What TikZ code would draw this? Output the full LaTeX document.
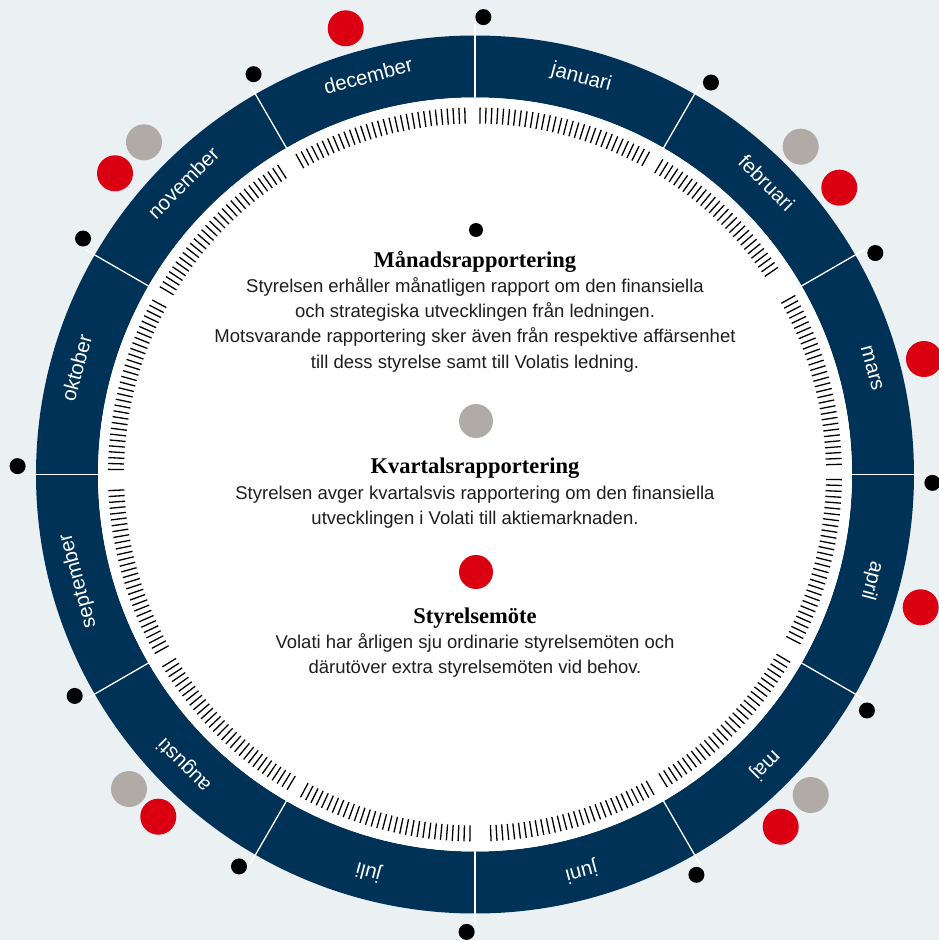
\documentclass[tikz,border=0pt]{standalone}
\usepackage{fontspec}
\setmainfont{Liberation Sans}
\newfontfamily\headfont{Liberation Serif}
\definecolor{navy}{RGB}{0,50,88}
\definecolor{vred}{RGB}{218,0,18}
\definecolor{vgrey}{RGB}{176,171,166}
\definecolor{bgc}{RGB}{235,240,243}
\definecolor{bodyc}{RGB}{30,30,30}
\begin{document}
\begin{tikzpicture}[x=1pt,y=1pt,
  bdot/.style={circle, fill=black, minimum size=16pt, inner sep=0pt},
  rdot/.style={circle, fill=vred, minimum size=36pt, inner sep=0pt},
  gdot/.style={circle, fill=vgrey, minimum size=36pt, inner sep=0pt},
  monthlabel/.style={text=white, font=\fontsize{20.5}{24}\selectfont, anchor=mid, inner sep=0pt},
  daytick/.style={line width=1.3pt, black},
  divider/.style={white, line width=1.3pt},
  headtext/.style={font=\headfont\bfseries\fontsize{22.5}{26}\selectfont, anchor=base, inner sep=0pt},
  bodytext/.style={font=\fontsize{18.5}{25}\selectfont, text=bodyc, anchor=base, inner sep=0pt}]
% background and bounding box
\fill[bgc] (-475,-465.5) rectangle (464,474.5);
\useasboundingbox (-475,-465.5) rectangle (464,474.5);
\coordinate (c) at (0,0);
% ring
\fill[navy, even odd rule] (c) circle (439) (c) circle (377);
\fill[white] (c) circle (377);
% dividers
\foreach \k in {0,...,11}{
  \pgfmathsetmacro\a{90-30*\k}
  \draw[divider] (\a:377) -- (\a:450);
}
% day ticks
\foreach \m/\d in {0/31,1/28,2/31,3/30,4/31,5/30,6/31,7/31,8/30,9/31,10/30,11/31}{
  \foreach \i in {1,...,\d}{
    \pgfmathsetmacro\a{90-30*\m-0.8-(\i-1)*0.92}
    \draw[daytick] (\a:351) -- (\a:367);
  }
}
% month labels
\foreach \m/\nm in {0/januari,1/februari,2/mars,3/april,4/maj,5/juni,6/juli,7/augusti,8/september,9/oktober,10/november,11/december}{
  \pgfmathsetmacro\a{75-30*\m}
  \node[monthlabel, rotate=\a-90] (m\m) at (\a:408) {\nm};
}
% boundary dots
\foreach \k in {0,...,11}{
  \pgfmathsetmacro\a{90-30*\k-1.05}
  \node[bdot] (bd\k) at (\a:457.5) {};
}
% event dots
\node[rdot] (decr) at (-129.3,446.2) {};
\node[gdot] (febg) at (325.7,327.8) {};
\node[rdot] (febr) at (364.3,286.8) {};
\node[rdot] (marr) at (449,115.5) {};
\node[rdot] (aprr) at (445.7,-132.8) {};
\node[gdot] (majg) at (335.7,-320.5) {};
\node[rdot] (majr) at (305.7,-352.2) {};
\node[gdot] (augg) at (-346,-314.5) {};
\node[rdot] (augr) at (-316.7,-342.2) {};
\node[gdot] (novg) at (-331,332.2) {};
\node[rdot] (novr) at (-360,301.2) {};
% legend
\node[bdot, minimum size=14pt] (lb) at (1,244.5) {};
\node[headtext] (h1) at (0,206.5) {Månadsrapportering};
\node[bodytext] (t1a) at (0,181.5) {Styrelsen erhåller månatligen rapport om den finansiella};
\node[bodytext] (t1b) at (0,156.5) {och strategiska utvecklingen från ledningen.};
\node[bodytext] (t1c) at (0,131.5) {Motsvarande rapportering sker även från respektive affärsenhet};
\node[bodytext] (t1d) at (0,106.5) {till dess styrelse samt till Volatis ledning.};
\node[gdot, minimum size=34pt] (lg) at (1,53.5) {};
\node[headtext] (h2) at (0,1.5) {Kvartalsrapportering};
\node[bodytext] (t2a) at (0,-24.5) {Styrelsen avger kvartalsvis rapportering om den finansiella};
\node[bodytext] (t2b) at (0,-49.5) {utvecklingen i Volati till aktiemarknaden.};
\node[rdot, minimum size=34pt] (lr) at (1,-97.5) {};
\node[headtext] (h3) at (0,-148.5) {Styrelsemöte};
\node[bodytext] (t3a) at (0,-173.5) {Volati har årligen sju ordinarie styrelsemöten och};
\node[bodytext] (t3b) at (0,-198.5) {därutöver extra styrelsemöten vid behov.};
\end{tikzpicture}
\end{document}
